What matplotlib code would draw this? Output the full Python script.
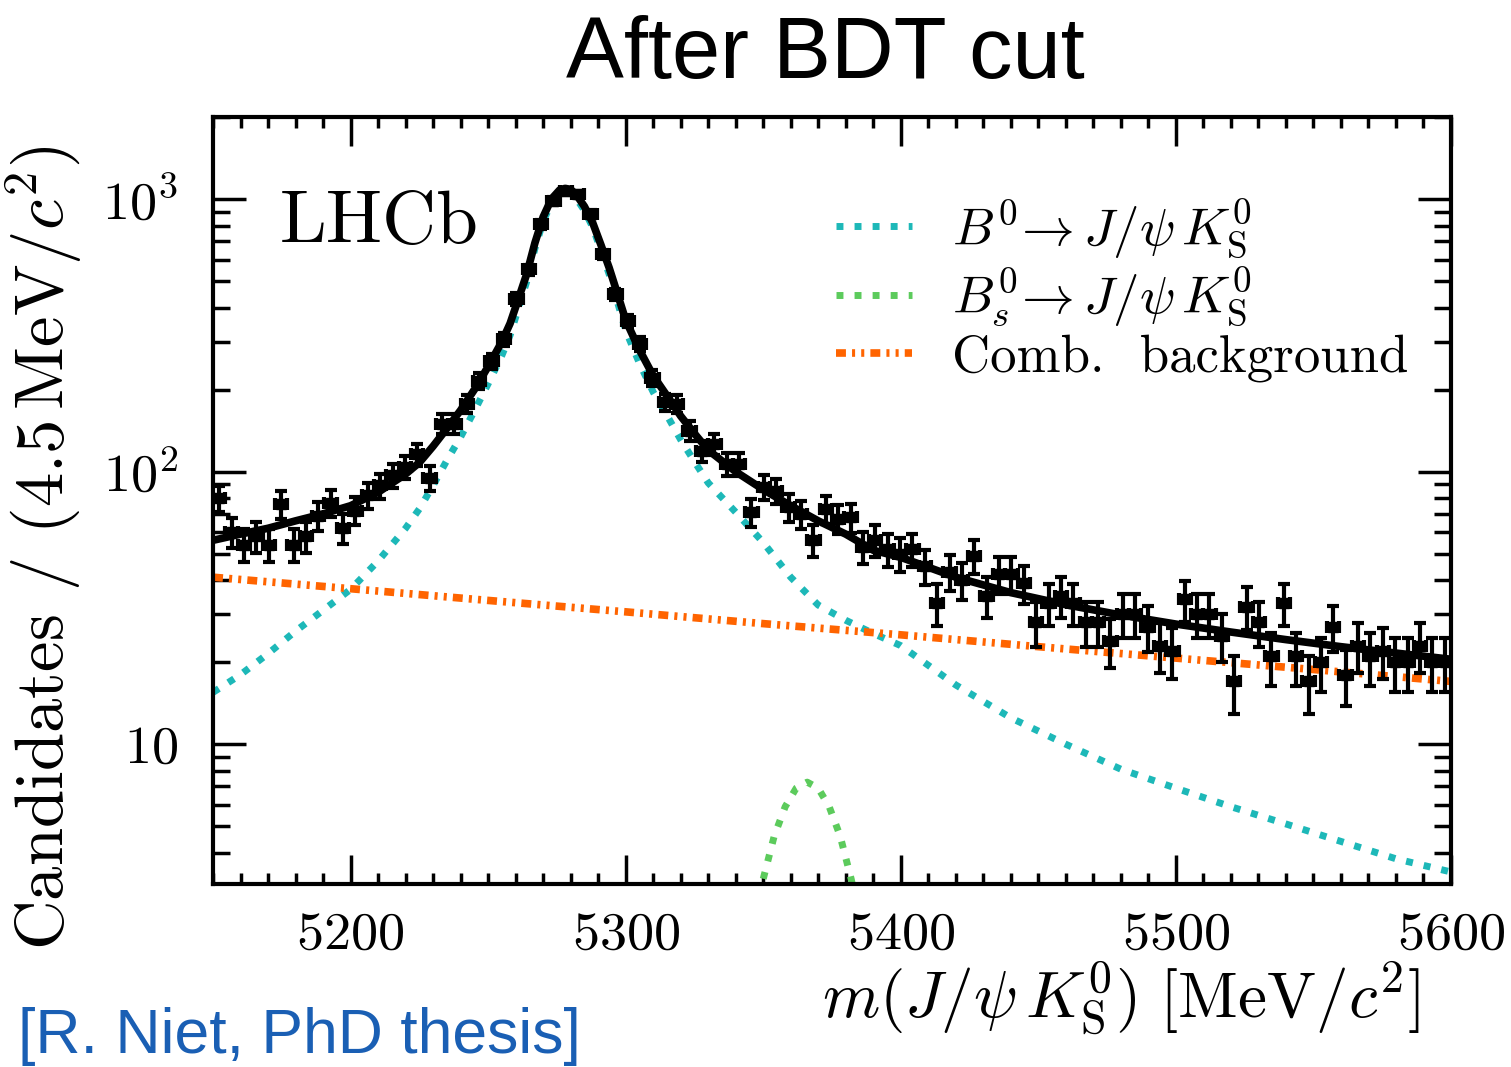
import numpy as np
import matplotlib
matplotlib.use("Agg")
import matplotlib.pyplot as plt
from matplotlib.ticker import FixedLocator, FixedFormatter, LogLocator, MultipleLocator, NullFormatter

plt.rcParams["mathtext.fontset"] = "cm"
plt.rcParams["font.family"] = "cmr10"
plt.rcParams["axes.formatter.use_mathtext"] = True

# binned data: 100 bins of 4.5 MeV from 5150 to 5600
bin_lo = 5150.0
bin_width = 4.5
counts = [
    80, 60, 54, 58, 54, 76, 54, 58, 69, 77,
    62, 72, 82, 89, 97, 104, 116, 95, 150, 150,
    177, 215, 255, 306, 430, 552, 807, 984, 1070, 1040,
    881, 627, 448, 357, 294, 221, 180, 177, 141, 119,
    126, 107, 107, 71, 88, 85, 74, 70, 56, 73,
    67, 68, 53, 56, 52, 50, 52, 45, 33, 43,
    40, 49, 35, 42, 42, 39, 28, 33, 35, 33,
    28, 28, 24, 30, 30, 27, 23, 22, 34, 30,
    30, 25, 17, 32, 28, 21, 33, 21, 17, 20,
    27, 18, 23, 21, 22, 20, 20, 23, 20, 20,
]

# fit curves
fit_mass = [5150, 5160, 5170, 5180, 5190, 5200, 5210, 5220, 5225, 5230,
            5235, 5240, 5245, 5250, 5255, 5258, 5261, 5264, 5267, 5270,
            5273, 5276, 5278, 5280, 5282, 5285, 5288, 5291, 5294, 5297,
            5300, 5305, 5310, 5315, 5320, 5325, 5330, 5340, 5350, 5360,
            5370, 5380, 5390, 5400, 5420, 5440, 5460, 5480, 5500, 5520,
            5540, 5560, 5580, 5600]
fit_total = [56, 59, 62, 66, 70, 75, 84, 98, 108, 124,
             144, 168, 200, 243, 300, 350, 430, 530, 690, 860,
             1000, 1080, 1095, 1085, 1040, 940, 820, 680, 560, 450,
             360, 280, 225, 190, 160, 138, 120, 100, 86, 75,
             66, 59, 51.5, 48.5, 41, 36, 32.5, 29.8, 27.6, 25.8,
             24.2, 22.8, 21.6, 20.5]
fit_bd = [15.5, 18, 21.5, 26, 31, 37, 47, 62, 73, 89,
          110, 134, 167, 210, 267, 317, 397, 497, 658, 828,
          968, 1048, 1063, 1053, 1008, 908, 789, 650, 530, 420,
          330, 250, 196, 161, 131, 109, 91, 71, 55, 41,
          32.4, 28.5, 25.5, 23, 16.5, 12.5, 10, 8.1, 6.9, 5.9,
          5.1, 4.4, 3.8, 3.4]

comb_mass = [5150, 5200, 5250, 5300, 5350, 5400, 5450, 5500, 5550, 5600]
comb_bkg = [41.0, 37.2, 33.7, 30.6, 27.7, 25.2, 22.8, 20.7, 18.8, 17.0]

bs_mass = [5346, 5350, 5354, 5358, 5362, 5366, 5370, 5374, 5378, 5382, 5386]
bs_yield = [2.05, 3.2, 4.6, 5.9, 6.9, 7.26, 6.9, 5.9, 4.6, 3.2, 2.05]

labels = [r"$B^0\!\rightarrow J/\psi\,K^0_{\mathrm{S}}$",
          r"$B^0_s\!\rightarrow J/\psi\,K^0_{\mathrm{S}}$",
          "Comb.  background"]

col_bd = "#1db8b8"
col_bs = "#5ccb5c"
col_comb = "#ff6400"

fig = plt.figure(figsize=(15.11, 10.67), dpi=100)
ax = fig.add_axes([0.141, 0.1715, 0.8192, 0.7188])

centers = bin_lo + bin_width * (np.arange(len(counts)) + 0.5)
n = np.array(counts, dtype=float)

l_bd, = ax.plot(fit_mass, fit_bd, color=col_bd, lw=5, dash_capstyle="butt", zorder=2)
l_bd.set_dashes([1.0, 1.6])
l_bs, = ax.plot(bs_mass, bs_yield, color=col_bs, lw=5, dash_capstyle="butt", zorder=2)
l_bs.set_dashes([1.0, 1.6])
l_comb, = ax.plot(comb_mass, comb_bkg, color=col_comb, lw=5.5, dash_capstyle="butt", zorder=2)
l_comb.set_dashes([1.3, 0.8, 0.4, 0.8, 0.4, 0.8])

ax.errorbar(centers, n, xerr=bin_width / 2, yerr=np.sqrt(n), fmt="s", color="black",
            ms=6.5, elinewidth=3, capsize=4.2, capthick=3, zorder=3)
ax.plot(fit_mass, fit_total, color="black", lw=5.5, zorder=4)

ax.set_yscale("log")
ax.set_xlim(5150, 5600)
ax.set_ylim(3.07, 2000)

ax.xaxis.set_major_locator(MultipleLocator(100))
ax.xaxis.set_minor_locator(MultipleLocator(10))
ax.yaxis.set_major_locator(FixedLocator([10, 100, 1000]))
ax.yaxis.set_major_formatter(FixedFormatter([r"$10$", r"$10^2$", r"$10^3$"]))
ax.yaxis.set_minor_locator(LogLocator(base=10, subs=np.arange(2, 10)))
ax.yaxis.set_minor_formatter(NullFormatter())

ax.tick_params(which="both", direction="in", top=True, right=True, width=2.5)
ax.tick_params(axis="x", which="major", length=21, pad=20, labelsize=39)
ax.tick_params(axis="x", which="minor", length=8)
ax.tick_params(axis="y", which="major", length=24, pad=25, labelsize=39)
ax.tick_params(axis="y", which="minor", length=12)
for sp in ax.spines.values():
    sp.set_linewidth(3)

ax.set_xlabel(r"$m(J/\psi\,K^0_{\mathrm{S}})\ [\mathrm{MeV}/c^2]$", fontsize=47, loc="right")
ax.xaxis.set_label_coords(0.975, -0.098)
ax.set_ylabel(r"Candidates / $(4.5\,\mathrm{MeV}/c^2)$", fontsize=49.5, loc="top")
ax.yaxis.set_label_coords(-0.104, 0.963)

ax.text(0.054, 0.836, "LHCb", transform=ax.transAxes, fontsize=54, va="baseline")

ax.legend([l_bd, l_bs, l_comb], labels, loc="upper left", bbox_to_anchor=(0.503, 0.895),
          frameon=False, fontsize=38, handlelength=1.45, handletextpad=0.75,
          labelspacing=0.1, borderpad=0, borderaxespad=0)

fig.text(0.546, 0.927, "After BDT cut", family="Liberation Sans", fontsize=62.5,
         ha="center", va="baseline")
fig.text(0.012, 0.013, "[R. Niet, PhD thesis]", family="Liberation Sans", fontsize=45,
         color="#1a5fb4", ha="left", va="baseline")

fig.savefig("out.png", dpi=100)
